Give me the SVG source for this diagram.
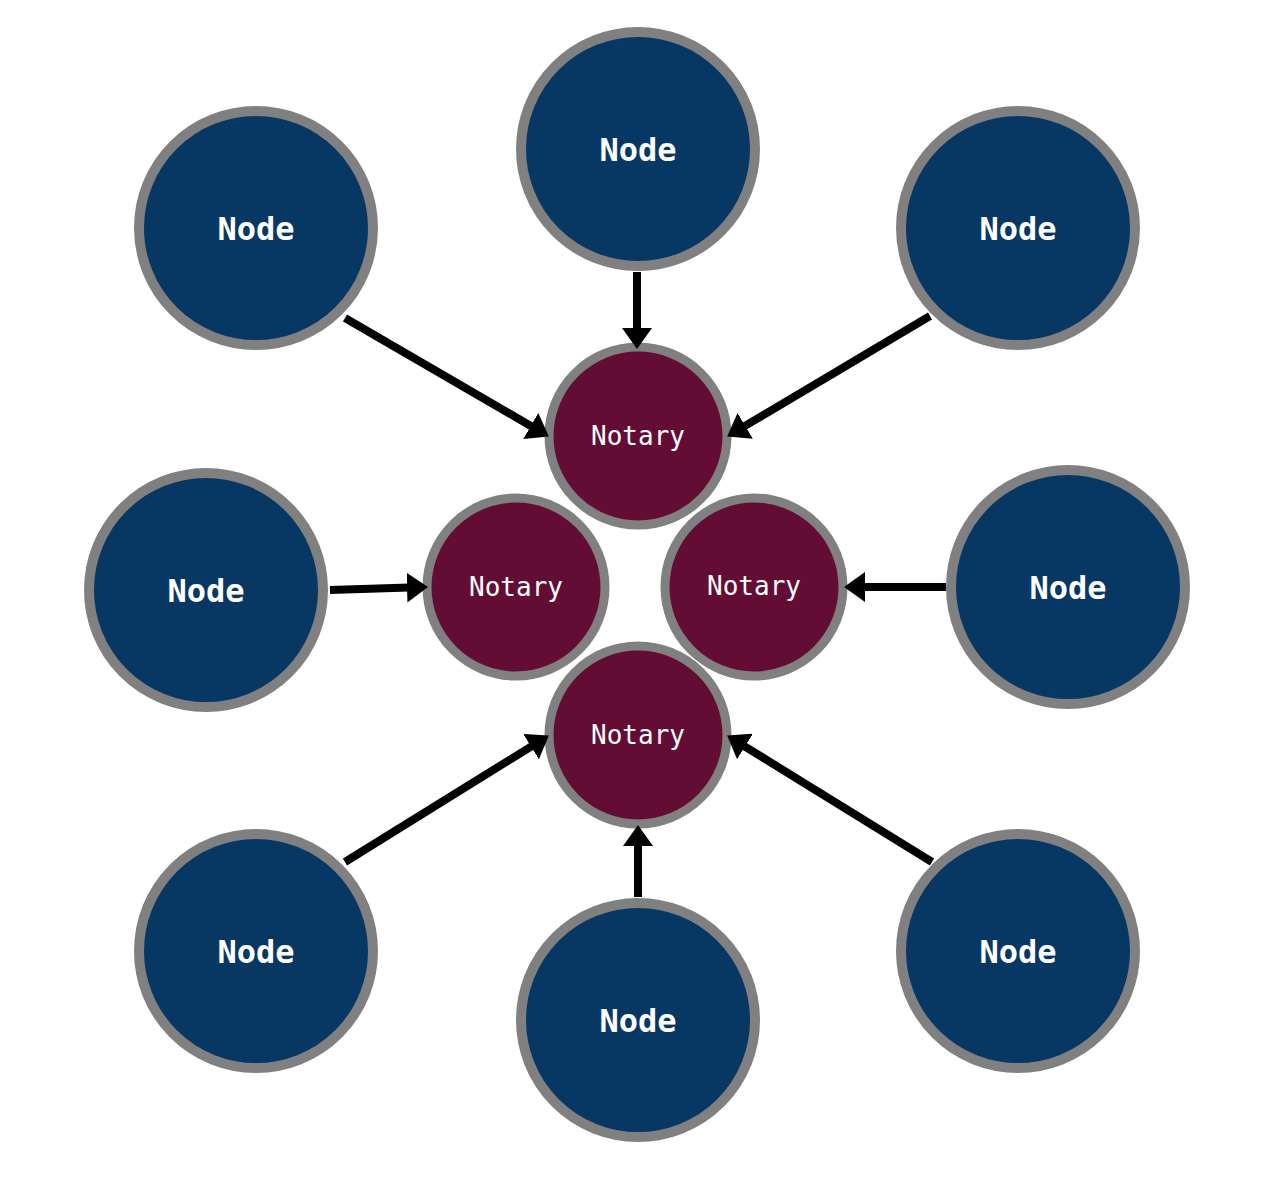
<svg xmlns="http://www.w3.org/2000/svg" width="1270" height="1181" viewBox="0 0 1270 1181">
<style>
.node circle{fill:#073763;stroke:#808080;stroke-width:10}
.notary circle{fill:#640d34;stroke:#808080;stroke-width:9}
.node text{fill:#fff;font-family:"DejaVu Sans Mono","Liberation Mono",monospace;font-size:32px;font-weight:bold;text-anchor:middle}
.notary text{fill:#fff;font-family:"DejaVu Sans Mono","Liberation Mono",monospace;font-size:26px;text-anchor:middle}
.conn line{stroke:#000;stroke-width:8;marker-end:url(#ah)}
</style>
<defs>
<marker id="ah" markerUnits="userSpaceOnUse" markerWidth="22" markerHeight="30" refX="10" refY="15" orient="auto">
<path d="M0,0 L21,15 L0,30 z" fill="#000"/>
</marker>
</defs>
<rect width="1270" height="1181" fill="#fff"/>
<g id="node-top" class="node"><circle cx="638" cy="149" r="117"/><text x="638" y="161">Node</text></g>
<g id="node-upper-left" class="node"><circle cx="256" cy="228" r="117"/><text x="256" y="240">Node</text></g>
<g id="node-upper-right" class="node"><circle cx="1018" cy="228" r="117"/><text x="1018" y="240">Node</text></g>
<g id="node-left" class="node"><circle cx="206" cy="590" r="117"/><text x="206" y="602">Node</text></g>
<g id="node-right" class="node"><circle cx="1068" cy="587" r="117"/><text x="1068" y="599">Node</text></g>
<g id="node-lower-left" class="node"><circle cx="256" cy="951" r="117"/><text x="256" y="963">Node</text></g>
<g id="node-bottom" class="node"><circle cx="638" cy="1020" r="117"/><text x="638" y="1032">Node</text></g>
<g id="node-lower-right" class="node"><circle cx="1018" cy="951" r="117"/><text x="1018" y="963">Node</text></g>
<g id="notary-top" class="notary"><circle cx="638" cy="436" r="89"/><text x="638" y="445">Notary</text></g>
<g id="notary-left" class="notary"><circle cx="516" cy="587" r="89"/><text x="516" y="596">Notary</text></g>
<g id="notary-right" class="notary"><circle cx="754" cy="587" r="89"/><text x="754" y="595">Notary</text></g>
<g id="notary-bottom" class="notary"><circle cx="638" cy="735" r="89"/><text x="638" y="744">Notary</text></g>
<g id="connectors" class="conn">
<line x1="637" y1="272" x2="637" y2="338"/>
<line x1="345" y1="318" x2="539.4" y2="431"/>
<line x1="930" y1="316" x2="736.6" y2="430.9"/>
<line x1="330" y1="590" x2="417" y2="587.3"/>
<line x1="946" y1="587" x2="855" y2="587"/>
<line x1="345" y1="862" x2="539.5" y2="741.3"/>
<line x1="638" y1="897" x2="638" y2="836"/>
<line x1="932" y1="862" x2="736.5" y2="741.3"/>
</g>
</svg>
